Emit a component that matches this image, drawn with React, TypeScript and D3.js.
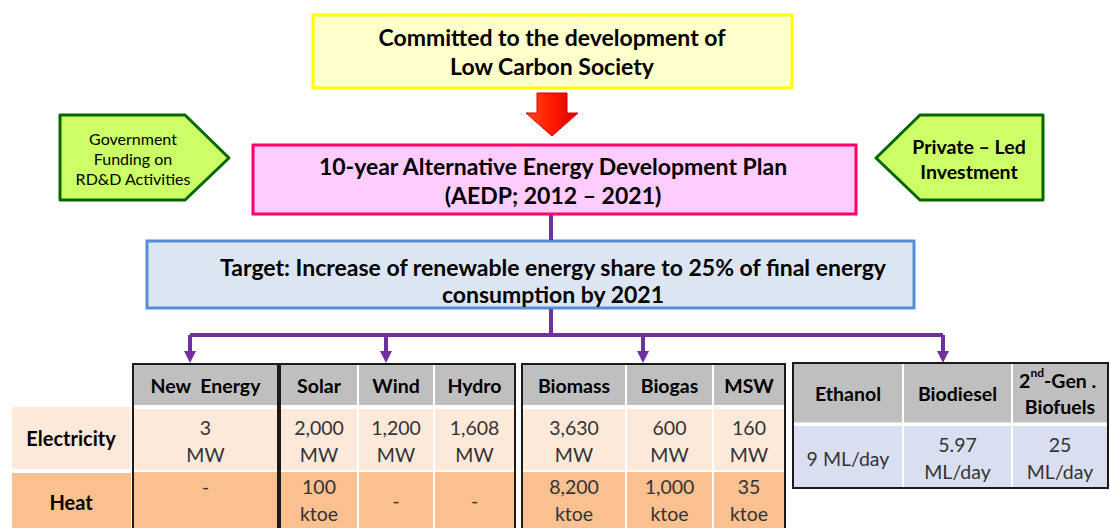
import React, { useEffect, useRef } from "react";
import * as d3 from "d3";

// --- data (text content of the diagram) ---
const topLines = ["Committed to the development of", "Low Carbon Society"];
const planLines = ["10-year Alternative Energy Development Plan", "(AEDP; 2012 – 2021)"];
const targetLines = ["Target: Increase of renewable energy share to 25% of final energy", "consumption by 2021"];
const leftSideLines = ["Government", "Funding on", "RD&D Activities"];
const rightSideLines = ["Private – Led", "Investment"];

const rowLabels = ["Electricity", "Heat"];

const powerGroups = [["New  Energy"], ["Solar", "Wind", "Hydro"], ["Biomass", "Biogas", "MSW"]];
const electricityValues = [["3\nMW"], ["2,000\nMW", "1,200\nMW", "1,608\nMW"], ["3,630\nMW", "600\nMW", "160\nMW"]];
const heatValues = [["-\n"], ["100\nktoe", "-", "-"], ["8,200\nktoe", "1,000\nktoe", "35\nktoe"]];

const fuelHeaders = ["Ethanol", "Biodiesel", "2nd-Gen . \nBiofuels"];
const fuelValues = ["9 ML/day", "5.97\nML/day", "25\nML/day"];

const FONT = "Lato, 'Open Sans', sans-serif";
const PURPLE = "#7030a0";

const App: React.FC = () => {
  const ref = useRef<SVGSVGElement>(null);

  useEffect(() => {
    if (!ref.current) return;
    const svg = d3.select(ref.current);
    svg.selectAll("*").remove();

    const defs = svg.append("defs");
    const grad = defs.append("linearGradient").attr("id", "redArrow").attr("x1", "0").attr("x2", "1").attr("y1", "0").attr("y2", "0");
    grad.append("stop").attr("offset", "0%").attr("stop-color", "#ff4a1a");
    grad.append("stop").attr("offset", "50%").attr("stop-color", "#ff1a00");
    grad.append("stop").attr("offset", "100%").attr("stop-color", "#d40000");

    const multiText = (
      g: d3.Selection<SVGGElement, unknown, null, undefined>,
      lines: string[],
      cx: number,
      cy: number,
      size: number,
      weight: string,
      lh: number,
      fill = "#000"
    ) => {
      const y0 = cy - ((lines.length - 1) * lh) / 2;
      lines.forEach((l, i) => {
        const t = g.append("text")
          .attr("x", cx)
          .attr("y", y0 + i * lh)
          .attr("text-anchor", "middle")
          .attr("dominant-baseline", "central")
          .style("font-family", FONT)
          .style("font-size", size + "px")
          .style("font-weight", weight)
          .style("white-space", "pre")
          .style("fill", fill);
        if (l.startsWith("2nd")) {
          t.append("tspan").text("2");
          t.append("tspan").attr("baseline-shift", "super").style("font-size", size * 0.62 + "px").text("nd");
          t.append("tspan").text(l.slice(3));
        } else {
          t.text(l);
        }
      });
    };

    const g = svg.append("g");

    // top box
    g.append("rect").attr("x", 313).attr("y", 15).attr("width", 479).attr("height", 73)
      .attr("fill", "#ffffcc").attr("stroke", "#ffff00").attr("stroke-width", 3);
    multiText(g, topLines, 552, 51, 23, "bold", 29);

    // red arrow
    const ax = 552;
    g.append("path")
      .attr("d", d3.line()([[ax - 15, 93], [ax + 15, 93], [ax + 15, 113], [ax + 26, 113], [ax, 136], [ax - 26, 113], [ax - 15, 113]]) + "Z")
      .attr("fill", "url(#redArrow)").attr("stroke", "#e00000").attr("stroke-width", 1);

    // plan box
    g.append("rect").attr("x", 253).attr("y", 145).attr("width", 603).attr("height", 69)
      .attr("fill", "#ffccff").attr("stroke", "#ff0066").attr("stroke-width", 3);
    multiText(g, planLines, 553, 180, 23, "bold", 29);

    // side pentagons
    const greenStyle = (p: d3.Selection<SVGPathElement, unknown, null, undefined>) =>
      p.attr("fill", "#ccff66").attr("stroke", "#006600").attr("stroke-width", 3).attr("stroke-linejoin", "round");
    greenStyle(g.append("path").attr("d", d3.line()([[60, 115], [185, 115], [229, 158], [185, 200], [60, 200]]) + "Z"));
    multiText(g, leftSideLines, 133, 158, 16, "normal", 20);
    greenStyle(g.append("path").attr("d", d3.line()([[920, 115], [1043, 115], [1043, 200], [920, 200], [876, 158]]) + "Z"));
    multiText(g, rightSideLines, 969, 159, 19.5, "bold", 25);

    // target box
    g.append("rect").attr("x", 147).attr("y", 241).attr("width", 767).attr("height", 67)
      .attr("fill", "#dce6f2").attr("stroke", "#558ed5").attr("stroke-width", 3);
    multiText(g, targetLines, 553, 280, 23, "bold", 27);

    // purple connectors
    const line = (pts: [number, number][]) =>
      g.append("path").attr("d", d3.line()(pts)).attr("fill", "none").attr("stroke", PURPLE).attr("stroke-width", 4);
    line([[551, 215], [551, 240]]);
    line([[551, 309], [551, 335]]);
    const arrowXs = [190, 386, 643, 943];
    line([[d3.min(arrowXs)!, 335], [d3.max(arrowXs)!, 335]]);
    arrowXs.forEach((x) => {
      line([[x, 335], [x, 353]]);
      g.append("path").attr("d", d3.line()([[x - 6, 351], [x + 6, 351], [x, 363]]) + "Z").attr("fill", PURPLE);
    });

    // row labels
    const rowY = [
      { y: 407, h: 62, fill: "#fde9d9" },
      { y: 473, h: 60, fill: "#fac090" },
    ];
    rowLabels.forEach((lab, i) => {
      g.append("rect").attr("x", 12).attr("y", rowY[i].y).attr("width", 119).attr("height", rowY[i].h).attr("fill", rowY[i].fill);
      multiText(g, [lab], 71, rowY[i].y + rowY[i].h / 2 + (i === 1 ? -1 : 0), 20, "bold", 27);
    });

    // power/heat tables
    const groupBox = [
      { x: 133, w: 145, weights: [1] },
      { x: 280, w: 235, weights: [78, 76, 81] },
      { x: 522, w: 263, weights: [104, 87, 72] },
    ];
    const hdr = { y: 364, h: 41 };
    const elec = { y: 409, h: 61 };
    const heat = { y: 472, h: 62 };
    powerGroups.forEach((cols, gi) => {
      const b = groupBox[gi];
      const tot = d3.sum(b.weights);
      const xs = d3.scaleLinear().domain([0, tot]).range([b.x, b.x + b.w]);
      let acc = 0;
      cols.forEach((c, ci) => {
        const x0 = xs(acc);
        acc += b.weights[ci];
        const x1 = xs(acc);
        const w = x1 - x0;
        g.append("rect").attr("x", x0).attr("y", hdr.y).attr("width", w).attr("height", hdr.h).attr("fill", "#bfbfbf");
        g.append("rect").attr("x", x0).attr("y", elec.y).attr("width", w).attr("height", elec.h).attr("fill", "#fde9d9");
        g.append("rect").attr("x", x0).attr("y", heat.y).attr("width", w).attr("height", heat.h).attr("fill", "#fac090");
        if (ci > 0) {
          g.append("line").attr("x1", x0).attr("x2", x0).attr("y1", hdr.y).attr("y2", 528).attr("stroke", "#ffffff").attr("stroke-width", 2);
        }
        multiText(g, [c], (x0 + x1) / 2, hdr.y + hdr.h / 2 + 1, 19.5, "bold", 26);
        multiText(g, electricityValues[gi][ci].split("\n"), (x0 + x1) / 2, elec.y + elec.h / 2 + 1, 19.5, "normal", 27, "#333");
        multiText(g, heatValues[gi][ci].split("\n"), (x0 + x1) / 2, heat.y + heat.h / 2 - 3, 19.5, "normal", 27, "#333");
      });
      g.append("line").attr("x1", b.x).attr("x2", b.x + b.w).attr("y1", elec.y - 2).attr("y2", elec.y - 2).attr("stroke", "#fff").attr("stroke-width", 4);
      g.append("line").attr("x1", b.x).attr("x2", b.x + b.w).attr("y1", heat.y - 1).attr("y2", heat.y - 1).attr("stroke", "#fff").attr("stroke-width", 2);
      g.append("path")
        .attr("d", d3.line()([[b.x, 540], [b.x, hdr.y], [b.x + b.w, hdr.y], [b.x + b.w, 540]]))
        .attr("fill", "none").attr("stroke", "#1a1a1a").attr("stroke-width", 2);
    });

    // biofuel table
    const fb = { x: 793, w: 315, weights: [110, 109, 96] };
    const fh = { y: 363, h: 60 };
    const fr = { y: 426, h: 62 };
    const fx = d3.scaleLinear().domain([0, d3.sum(fb.weights)]).range([fb.x, fb.x + fb.w]);
    let facc = 0;
    fuelHeaders.forEach((c, ci) => {
      const x0 = fx(facc);
      facc += fb.weights[ci];
      const x1 = fx(facc);
      g.append("rect").attr("x", x0).attr("y", fh.y).attr("width", x1 - x0).attr("height", fh.h).attr("fill", "#bfbfbf");
      g.append("rect").attr("x", x0).attr("y", fr.y).attr("width", x1 - x0).attr("height", fr.h).attr("fill", "#d9dff0");
      if (ci > 0) {
        g.append("line").attr("x1", x0).attr("x2", x0).attr("y1", fh.y).attr("y2", fr.y + fr.h).attr("stroke", "#fff").attr("stroke-width", 2);
      }
      multiText(g, c.split("\n"), (x0 + x1) / 2, fh.y + fh.h / 2, 19.5, "bold", 26);
      multiText(g, fuelValues[ci].split("\n"), (x0 + x1) / 2, fr.y + fr.h / 2 + 1, 19.5, "normal", 27, "#333");
    });
    g.append("line").attr("x1", fb.x).attr("x2", fb.x + fb.w).attr("y1", fr.y - 2).attr("y2", fr.y - 2).attr("stroke", "#fff").attr("stroke-width", 3);
    g.append("rect").attr("x", fb.x).attr("y", fh.y).attr("width", fb.w).attr("height", fr.y + fr.h - fh.y)
      .attr("fill", "none").attr("stroke", "#1a1a1a").attr("stroke-width", 2);
  }, []);

  return <svg ref={ref} width={1110} height={528} style={{ position: "absolute", left: 0, top: 0, background: "#fff" }} />;
};

export default App;
